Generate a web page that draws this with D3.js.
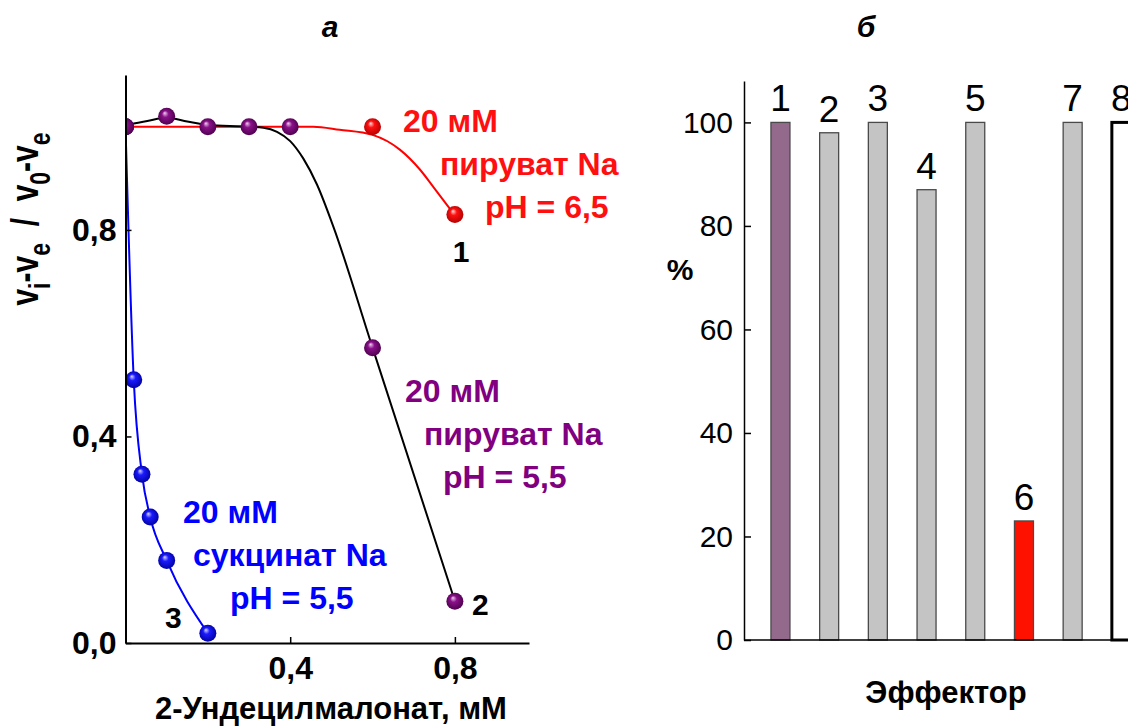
<!DOCTYPE html>
<html><head><meta charset="utf-8">
<script src="https://cdn.jsdelivr.net/npm/d3@7"></script>
<style>
body{margin:0;background:#fff}
svg{display:block}
text{font-family:"Liberation Sans",Arial,sans-serif}
</style>
</head><body>
<svg id="c" width="1128" height="727"></svg>
<script>
// ---------- DATA: panel а ----------
const redX    = [0, 0.6, 0.8];
const redY    = [1.0, 1.0, 0.83];
const purpleX = [0, 0.1, 0.2, 0.3, 0.4, 0.6, 0.8];
const purpleY = [1.0, 1.02, 1.0, 1.0, 1.0, 0.572, 0.081];
const blueX   = [0, 0.02, 0.04, 0.06, 0.1, 0.2];
const blueY   = [1.0, 0.51, 0.327, 0.244, 0.16, 0.019];
// fitted curves
const redFitX   = [0, 0.2, 0.456, 0.52, 0.6, 0.667, 0.715, 0.747, 0.8];
const redFitY   = [1.0, 1.0, 1.0, 0.994, 0.984, 0.955, 0.917, 0.884, 0.828];
const blackFitX = [0, 0.053, 0.1, 0.15, 0.2, 0.3, 0.335, 0.368, 0.4, 0.432, 0.465, 0.505, 0.6, 0.8];
const blackFitY = [1.003, 1.011, 1.017, 1.01, 1.003, 1.0, 0.998, 0.99, 0.972, 0.938, 0.888, 0.806, 0.572, 0.081];
const xTicksA = [0.4, 0.8];
const yTicksA = [0, 0.4, 0.8];

// ---------- DATA: panel б ----------
const effectors = ["1","2","3","4","5","6","7","8"];
const percent   = [100, 98, 100, 87, 100, 23, 100, 100];
const yTicksB   = [0, 20, 40, 60, 80, 100];

// ---------- STYLES ----------
const barFill   = {"1":"#936a8b","6":"#ff1100","8":"#ffffff"};
const barStroke = {"8":"#000000"};
const FONT = '"Liberation Sans",Arial,sans-serif';

const svg = d3.select("#c");
const defs = svg.append("defs");

function ball(id, light, mid, dark){
  const g = defs.append("radialGradient").attr("id", id)
    .attr("cx","50%").attr("cy","50%").attr("r","55%").attr("fx","38%").attr("fy","30%");
  g.append("stop").attr("offset","0%").attr("stop-color", light);
  g.append("stop").attr("offset","35%").attr("stop-color", mid);
  g.append("stop").attr("offset","100%").attr("stop-color", dark);
}
ball("gRed","#ffe0e0","#ff1010","#b00000");
ball("gPur","#f0d0f0","#8a108a","#4a004a");
ball("gBlu","#d8d8ff","#1a1aff","#00009a");

// ---------- PANEL а ----------
const xA = d3.scaleLinear().domain([0, 0.98]).range([125.5, 529]);
const yA = d3.scaleLinear().domain([0, 1.1]).range([643, 75]);
const comma = d => d3.format(".1f")(d).replace(".", ",");

defs.append("clipPath").attr("id","clipA").append("rect")
  .attr("x", xA(0)).attr("y", 40).attr("width", 430).attr("height", 620);

const gA = svg.append("g");
const plotA = gA.append("g").attr("clip-path","url(#clipA)");

const zip = (xs, ys) => xs.map((x,i)=>[x, ys[i]]);
const lineA = d3.line().x(d=>xA(d[0])).y(d=>yA(d[1])).curve(d3.curveMonotoneX);

plotA.append("path").datum(zip(redFitX, redFitY))
  .attr("d", lineA).attr("fill","none")
  .attr("stroke","#ff0000").attr("stroke-width",2);
plotA.append("path").datum(zip(blackFitX, blackFitY))
  .attr("d", lineA).attr("fill","none")
  .attr("stroke","#000").attr("stroke-width",2);
plotA.append("path").datum(zip(blueX, blueY))
  .attr("d", lineA).attr("fill","none")
  .attr("stroke","#0000ff").attr("stroke-width",2);

function dots(xs, ys, grad){
  plotA.append("g").selectAll("circle").data(zip(xs, ys)).join("circle")
    .attr("cx", d=>xA(d[0])).attr("cy", d=>yA(d[1])).attr("r", 8.5)
    .attr("fill", `url(#${grad})`);
}
dots(redX, redY, "gRed");
dots(blueX, blueY, "gBlu");
dots(purpleX, purpleY, "gPur");

// axes
const axL = d3.axisLeft(yA).tickValues(yTicksA).tickFormat(comma)
  .tickSizeInner(-6).tickSizeOuter(0).tickPadding(9);
const gyA = gA.append("g").attr("transform", `translate(${xA(0)},0)`).call(axL);
const axB = d3.axisBottom(xA).tickValues(xTicksA).tickFormat(comma)
  .tickSizeInner(-6).tickSizeOuter(0).tickPadding(13);
const gxA = gA.append("g").attr("transform", `translate(0,${yA(0)})`).call(axB);
[gyA, gxA].forEach(g=>{
  g.select(".domain").attr("stroke","#000").attr("stroke-width",2);
  g.selectAll(".tick line").attr("stroke","#000").attr("stroke-width",1.5);
  g.selectAll(".tick text").attr("font-family",FONT).attr("font-weight","bold")
    .attr("font-size",32).attr("fill","#000");
});

// annotations
function txt(x, y, s, color, size, weight, anchor){
  return svg.append("text").attr("x",x).attr("y",y).text(s)
    .attr("fill",color).attr("font-size",size).attr("font-weight",weight||"bold")
    .attr("text-anchor",anchor||"start").attr("font-family",FONT);
}
txt(403,132,"20 мМ","#ff1010",32);
txt(440,175,"пируват Na","#ff1010",32);
txt(485,218,"pH = 6,5","#ff1010",32);
txt(461,262,"1","#000",30,"bold","middle");

txt(405,402,"20 мМ","#800080",32);
txt(424,445,"пируват Na","#800080",32);
txt(443,488,"pH = 5,5","#800080",32);
txt(472,615,"2","#000",30);

txt(183,523,"20 мМ","#0000ff",32);
txt(193,566,"сукцинат Na","#0000ff",32);
txt(230,609,"pH = 5,5","#0000ff",32);
txt(165,628,"3","#000",30);

txt(331,719,"2-Ундецилмалонат, мМ","#000",31,"bold","middle");

// y label with subscripts
const yl = svg.append("text").attr("transform","translate(38,219) rotate(-90) scale(1,1.3)")
  .attr("text-anchor","middle").attr("font-family",FONT).attr("font-weight","bold")
  .attr("font-size",30).attr("fill","#000").style("white-space","pre");
yl.append("tspan").text("v");
yl.append("tspan").attr("dy",9).attr("font-size",23).text("i");
yl.append("tspan").attr("dy",-9).text("-v");
yl.append("tspan").attr("dy",9).attr("font-size",23).text("e");
yl.append("tspan").attr("dy",-9).text("  /  v");
yl.append("tspan").attr("dy",9).attr("font-size",23).text("0");
yl.append("tspan").attr("dy",-9).text("-v");
yl.append("tspan").attr("dy",9).attr("font-size",23).text("e");

// panel titles
svg.append("text").attr("x",330).attr("y",37).attr("text-anchor","middle")
  .attr("font-family",'"Liberation Serif","Times New Roman",serif')
  .attr("font-style","italic").attr("font-weight","bold").attr("font-size",30).text("а");
svg.append("text").attr("x",866).attr("y",37).attr("text-anchor","middle")
  .attr("font-family",'"Liberation Serif","Times New Roman",serif')
  .attr("font-style","italic").attr("font-weight","bold").attr("font-size",30).text("б");

// ---------- PANEL б ----------
const xB = d3.scaleBand().domain(effectors).range([746.6, 1155.2])
  .paddingInner(0.61).paddingOuter(0.5);
const yB = d3.scaleLinear().domain([0, 108]).range([640, 81]);
const gB = svg.append("g");

gB.selectAll("rect.bar").data(effectors).join("rect").attr("class","bar")
  .attr("x", d=>xB(d)).attr("width", xB.bandwidth())
  .attr("y", (d,i)=>yB(percent[i])).attr("height",(d,i)=>yB(0)-yB(percent[i]))
  .attr("fill", d=>barFill[d] || "#c4c4c4")
  .attr("stroke", d=>barStroke[d] || "#4a4a4a")
  .attr("stroke-width", d=> d==="8" ? 3 : 1.3);

gB.selectAll("text.lab").data(effectors).join("text").attr("class","lab")
  .attr("x", d=>xB(d)+xB.bandwidth()/2).attr("y",(d,i)=>yB(percent[i])-11)
  .attr("text-anchor","middle").attr("font-family",FONT).attr("font-size",37)
  .attr("fill","#000").text(d=>d);

const axLB = d3.axisLeft(yB).tickValues(yTicksB).tickFormat(d3.format("d"))
  .tickSizeInner(-7).tickSizeOuter(0).tickPadding(11);
const gyB = gB.append("g").attr("transform","translate(744,0)").call(axLB);
gyB.select(".domain").attr("stroke","#000").attr("stroke-width",1.5);
gyB.selectAll(".tick line").attr("stroke","#000").attr("stroke-width",1.5);
gyB.selectAll(".tick text").attr("font-family",FONT).attr("font-size",30).attr("fill","#000");
gB.append("line").attr("x1",744).attr("x2",1128).attr("y1",yB(0)).attr("y2",yB(0))
  .attr("stroke","#000").attr("stroke-width",1.5);

txt(680,280,"%","#000",30,"bold","middle");
txt(946,703,"Эффектор","#000",31,"bold","middle");
</script>
</body></html>
